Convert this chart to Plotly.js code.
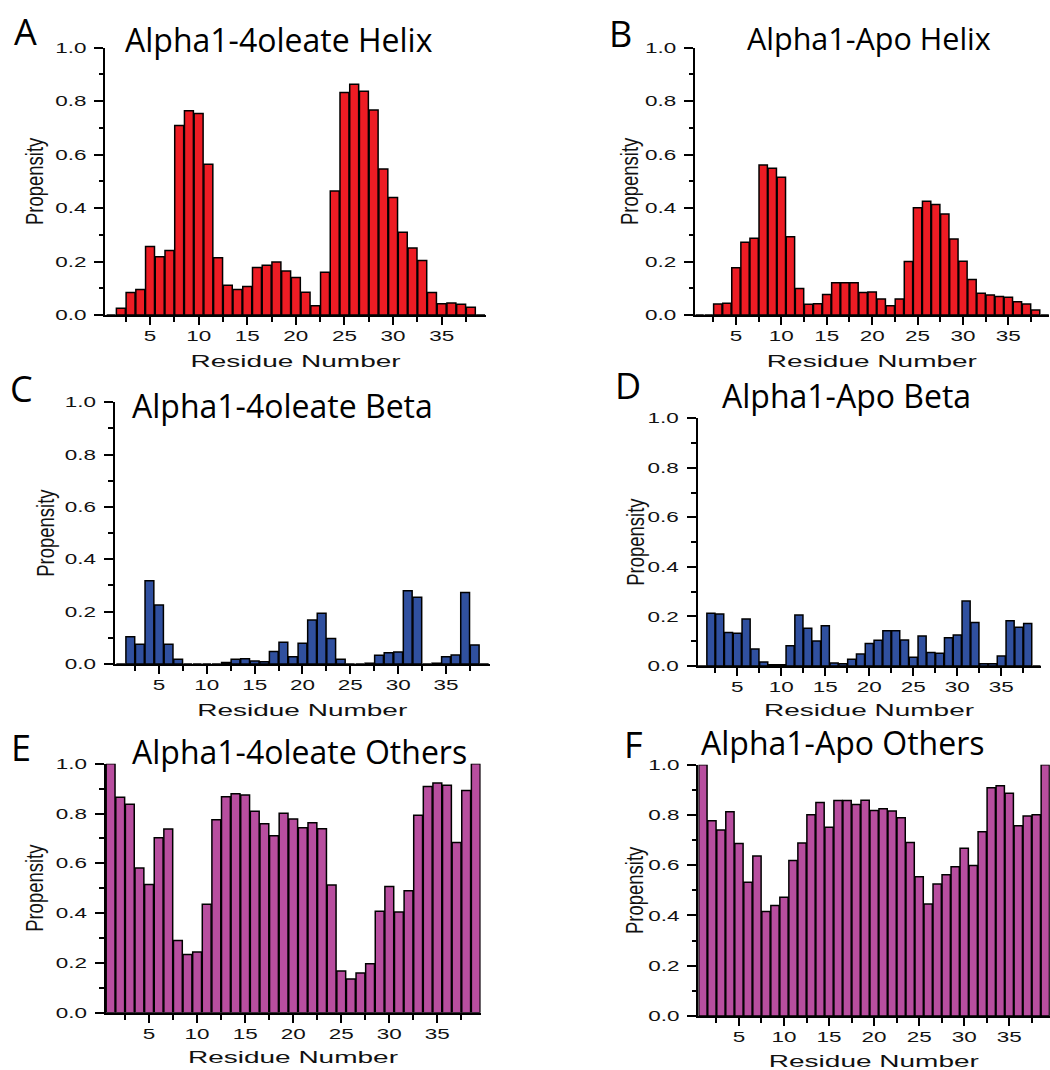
<!DOCTYPE html>
<html>
<head>
<meta charset="utf-8">
<script src="https://cdn.plot.ly/plotly-3.0.1.min.js"></script>
<style>
html, body { margin: 0; padding: 0; background: #ffffff; }
#chart { width: 1050px; height: 1070px; }
</style>
</head>
<body>
<div id="chart"></div>
<script>
// ---------------- data ----------------
const residues = [1,2,3,4,5,6,7,8,9,10,11,12,13,14,15,16,17,18,19,20,21,22,23,24,25,26,27,28,29,30,31,32,33,34,35,36,37,38,39];

const helix4oleate = [0, 0.025, 0.084, 0.095, 0.256, 0.218, 0.241, 0.709, 0.764, 0.754,
  0.564, 0.214, 0.111, 0.095, 0.107, 0.178, 0.186, 0.198, 0.165, 0.140,
  0.085, 0.035, 0.160, 0.464, 0.832, 0.863, 0.837, 0.767, 0.546, 0.440,
  0.310, 0.251, 0.204, 0.084, 0.042, 0.045, 0.040, 0.029, 0];

const helixApo = [0, 0, 0.041, 0.044, 0.177, 0.272, 0.287, 0.561, 0.549, 0.515,
  0.293, 0.099, 0.040, 0.042, 0.077, 0.121, 0.121, 0.121, 0.084, 0.086,
  0.060, 0.035, 0.060, 0.200, 0.401, 0.426, 0.413, 0.378, 0.284, 0.201,
  0.133, 0.081, 0.075, 0.069, 0.066, 0.050, 0.041, 0.019, 0];

const beta4oleate = [0, 0.104, 0.075, 0.318, 0.225, 0.075, 0.018, 0, 0, 0,
  0, 0.006, 0.018, 0.020, 0.011, 0.009, 0.048, 0.083, 0.028, 0.079,
  0.168, 0.194, 0.097, 0.018, 0, 0, 0.003, 0.033, 0.043, 0.046,
  0.280, 0.255, 0, 0.003, 0.028, 0.034, 0.273, 0.073, 0];

const betaApo = [0, 0.213, 0.210, 0.135, 0.132, 0.190, 0.069, 0.016, 0.005, 0.005,
  0.082, 0.206, 0.152, 0.101, 0.163, 0.012, 0.009, 0.027, 0.048, 0.091,
  0.104, 0.142, 0.142, 0.105, 0.035, 0.121, 0.055, 0.051, 0.114, 0.125,
  0.262, 0.176, 0.009, 0.009, 0.040, 0.183, 0.156, 0.172, 0];

const others4oleate = [1.000, 0.865, 0.837, 0.581, 0.515, 0.703, 0.738, 0.290, 0.234, 0.244,
  0.436, 0.775, 0.867, 0.879, 0.874, 0.809, 0.759, 0.711, 0.801, 0.778,
  0.743, 0.763, 0.739, 0.513, 0.167, 0.135, 0.159, 0.197, 0.407, 0.507,
  0.404, 0.490, 0.793, 0.908, 0.922, 0.913, 0.684, 0.892, 1.000];

const othersApo = [1.000, 0.777, 0.740, 0.813, 0.686, 0.532, 0.637, 0.416, 0.440, 0.473,
  0.619, 0.688, 0.801, 0.850, 0.751, 0.858, 0.858, 0.842, 0.859, 0.818,
  0.825, 0.816, 0.789, 0.690, 0.554, 0.446, 0.525, 0.562, 0.594, 0.668,
  0.599, 0.733, 0.908, 0.916, 0.886, 0.757, 0.796, 0.801, 1.000];

const panelTitles = ['Alpha1-4oleate Helix', 'Alpha1-Apo Helix', 'Alpha1-4oleate Beta',
                     'Alpha1-Apo Beta', 'Alpha1-4oleate Others', 'Alpha1-Apo Others'];
const panelLetters = ['A', 'B', 'C', 'D', 'E', 'F'];
const xTitle = 'Residue Number';
const yTitle = 'Propensity';

// ---------------- styling / layout ----------------
const RED = '#ED1C24', BLUE = '#30509F', MAGENTA = '#B84E9F';
const seriesList = [helix4oleate, helixApo, beta4oleate, betaApo, others4oleate, othersApo];
const colors = [RED, RED, BLUE, BLUE, MAGENTA, MAGENTA];

const geom = [
  {xd: [0.10029, 0.46324], yd: [0.70561, 0.95542], xr: [0.4, 39.6], xs: 12.5, ys: 20},
  {xd: [0.66200, 0.99924], yd: [0.70561, 0.95542], xr: [0.5, 39.5], xs: 12.5, ys: 14},
  {xd: [0.10952, 0.46667], yd: [0.37944, 0.62402], xr: [0.4, 39.6], xs: 12, ys: 18},
  {xd: [0.66448, 0.99133], yd: [0.37757, 0.60907], xr: [0.5, 39.5], xs: 10.5, ys: 11},
  {xd: [0.10076, 0.45771], yd: [0.05355, 0.28626], xr: [0.5, 39.5], xs: 10.5, ys: 20},
  {xd: [0.66514, 0.99981], yd: [0.05047, 0.28533], xr: [0.5, 39.5], xs: 12.5, ys: 13}
];

const titlePos = [
  {x: 0.26571, y: 0.96308, s: 32},
  {x: 0.82743, y: 0.96495, s: 30.5},
  {x: 0.26905, y: 0.62075, s: 32},
  {x: 0.80600, y: 0.63037, s: 32},
  {x: 0.28571, y: 0.29766, s: 32},
  {x: 0.80257, y: 0.30561, s: 32}
];
const letterPos = [
  {x: 0.02381, y: 0.97028},
  {x: 0.59095, y: 0.96888},
  {x: 0.02095, y: 0.63645},
  {x: 0.59762, y: 0.63991},
  {x: 0.02029, y: 0.30159},
  {x: 0.60314, y: 0.30439}
];

const tickFont = {family: 'Liberation Sans, Arial, sans-serif', size: 14.5, color: '#111111'};
const xTitleFont = {family: 'Liberation Sans, Arial, sans-serif', size: 16, color: '#111111'};
const yTitleFont = {family: 'Liberation Sans, Arial, sans-serif', size: 18.5, color: '#111111'};
const titleFont = {family: 'Open Sans, Noto Sans, sans-serif', color: '#000000'};

const data = [];
const layout = {
  width: 1050, height: 1070,
  margin: {l: 0, r: 0, t: 0, b: 0},
  paper_bgcolor: '#ffffff', plot_bgcolor: '#ffffff',
  showlegend: false,
  bargap: 0.08,
  annotations: []
};

for (let i = 0; i < 6; i++) {
  const n = i === 0 ? '' : String(i + 1);
  const g = geom[i];
  data.push({
    type: 'bar',
    x: residues,
    y: seriesList[i],
    xaxis: 'x' + n,
    yaxis: 'y' + n,
    marker: {color: colors[i], line: {color: '#000000', width: 1.5}},
    hoverinfo: 'skip'
  });
  layout['xaxis' + n] = {
    domain: g.xd, anchor: 'y' + n, range: g.xr,
    tick0: 0, dtick: 5, ticks: 'outside', ticklen: 8, tickwidth: 2, tickcolor: '#000',
    minor: {tick0: 0, dtick: 2.5, ticks: 'outside', ticklen: 5, tickwidth: 2, tickcolor: '#000', showgrid: false},
    showline: true, linewidth: 2, linecolor: '#000',
    showgrid: false, zeroline: false,
    tickfont: tickFont, ticklabelstandoff: -1,
    title: {text: xTitle, font: xTitleFont, standoff: g.xs}
  };
  layout['yaxis' + n] = {
    domain: g.yd, anchor: 'x' + n, range: [0, 1],
    tick0: 0, dtick: 0.2, tickformat: '.1f',
    ticks: 'outside', ticklen: 9, tickwidth: 2, tickcolor: '#000',
    minor: {tick0: 0, dtick: 0.1, ticks: 'outside', ticklen: 4.5, tickwidth: 2, tickcolor: '#000', showgrid: false},
    showline: true, linewidth: 2, linecolor: '#000',
    showgrid: false, zeroline: false,
    tickfont: tickFont, ticklabelstandoff: 5,
    title: {text: yTitle, font: yTitleFont, standoff: g.ys}
  };
  layout.annotations.push({
    xref: 'paper', yref: 'paper', x: titlePos[i].x, y: titlePos[i].y,
    xanchor: 'center', yanchor: 'middle', showarrow: false,
    text: panelTitles[i], font: Object.assign({size: titlePos[i].s}, titleFont)
  });
  layout.annotations.push({
    xref: 'paper', yref: 'paper', x: letterPos[i].x, y: letterPos[i].y,
    xanchor: 'center', yanchor: 'middle', showarrow: false,
    text: panelLetters[i], font: Object.assign({size: 36}, titleFont)
  });
}

// The reference's axis lettering is horizontally stretched; reproduce that look
function stretchAbout(el, sx, sy, cx, cy) {
  const tr = el.getAttribute('transform') || '';
  el.setAttribute('transform', (tr + ' translate(' + cx + ',' + cy + ') scale(' + sx + ',' + sy + ') translate(' + (-cx) + ',' + (-cy) + ')').trim());
}
function stretchAxisText(gd) {
  gd.querySelectorAll('g text').forEach(function (t) {
    const parentCls = (t.parentNode.getAttribute('class') || '');
    const cls = (t.getAttribute('class') || '');
    let b;
    if (/^y\d*tick$/.test(parentCls)) {
      b = t.getBBox();
      stretchAbout(t, 1.55, 1, b.x + b.width, b.y + b.height / 2);
    } else if (/^x\d*tick$/.test(parentCls)) {
      b = t.getBBox();
      stretchAbout(t, 1.55, 1, b.x + b.width / 2, b.y + b.height / 2);
    } else if (/^x\d*title$/.test(cls)) {
      b = t.getBBox();
      stretchAbout(t, 1.75, 1, b.x + b.width / 2, b.y + b.height / 2);
    } else if (/^y\d*title$/.test(cls)) {
      // rotated title: local y runs along the screen x direction
      b = t.getBBox();
      stretchAbout(t, 1, 1.3, b.x + b.width / 2, b.y + b.height / 2);
    }
  });
}

Plotly.newPlot('chart', data, layout, {staticPlot: true, responsive: false}).then(stretchAxisText);
</script>
</body>
</html>
